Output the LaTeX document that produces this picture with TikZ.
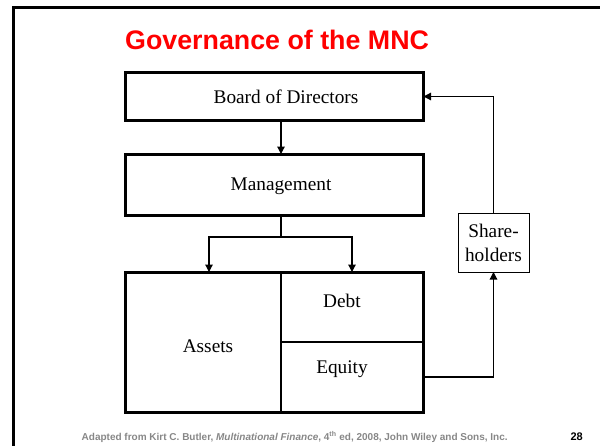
\documentclass[tikz,border=0pt]{standalone}
\usepackage{fontspec}
\setmainfont{Liberation Serif}
\newfontfamily\headfont{Liberation Sans}
\usetikzlibrary{arrows.meta}
\definecolor{titlered}{RGB}{255,0,0}
\definecolor{footgray}{RGB}{135,135,135}
\begin{document}
\begin{tikzpicture}[x=1pt,y=-1pt,
  boxtext/.style={font=\fontsize{19.3}{24}\selectfont},
  bigbox/.style={draw, line width=3pt, inner sep=0pt, outer sep=0pt, minimum width=298pt},
  smallbox/.style={draw, line width=1pt, inner sep=0pt, outer sep=0pt, align=center,
    minimum width=71pt, minimum height=59pt, boxtext},
  link/.style={line width=1.2pt},
  arr/.style={link, -{Triangle[length=7.5pt,width=7.5pt]}}]
\useasboundingbox (0,0) rectangle (600,445);
% slide frame
\draw[line width=2.5pt] (13.5,450) -- (13.5,7.7) -- (610,7.7);
% title
\node[anchor=base west, inner sep=0pt, text=titlered,
  font=\headfont\bfseries\fontsize{26.8}{30}\selectfont] (title) at (125,49) {Governance of the MNC};
% reference coordinates
\coordinate (split) at (281,0);
\coordinate (lx) at (209,0);
\coordinate (rx) at (352,0);
\coordinate (fork) at (281,237);
\coordinate (mid) at (0,342);
\coordinate (eqy) at (0,377);
% boxes
\node[bigbox, minimum height=48pt] (board) at (274.5,96.5) {};
\node[boxtext] (boardtxt) at (286,97) {Board of Directors};
\node[bigbox, minimum height=61pt] (mgmt) at (274.5,184.5) {};
\node[boxtext] (mgmttxt) at (281,186) {Management};
\node[bigbox, minimum height=140pt] (firm) at (274.5,342) {};
\draw[link] (firm.north -| split) -- (firm.south -| split);
\draw[link] (split |- mid) -- (firm.east |- mid);
\node[boxtext] (assets) at (208,346) {Assets};
\node[boxtext] (debt) at (342,301) {Debt};
\node[boxtext] (equity) at (342,369) {Equity};
\node[smallbox] (sh) at (493.5,242.5) {Share-\\holders};
% connectors
\draw[arr] (board.south -| split) -- (mgmt.north -| split);
\draw[link] (mgmt.south -| split) -- (fork);
\draw[arr] (fork) -| (lx |- firm.north);
\draw[arr] (fork) -| (rx |- firm.north);
\draw[arr] (sh.north) |- (board.east);
\draw[arr] (firm.east |- eqy) -| (sh.south);
% footer
\node[anchor=base west, inner sep=0pt, text=footgray,
  font=\headfont\bfseries\fontsize{10}{12}\selectfont] (foot) at (81.5,440)
  {Adapted from Kirt C. Butler, \textit{Multinational Finance}, 4\textsuperscript{th} ed, 2008, John Wiley and Sons, Inc.};
\node[anchor=base east, inner sep=0pt,
  font=\headfont\bfseries\fontsize{11}{13}\selectfont] (page) at (583,440) {28};
\end{tikzpicture}
\end{document}
